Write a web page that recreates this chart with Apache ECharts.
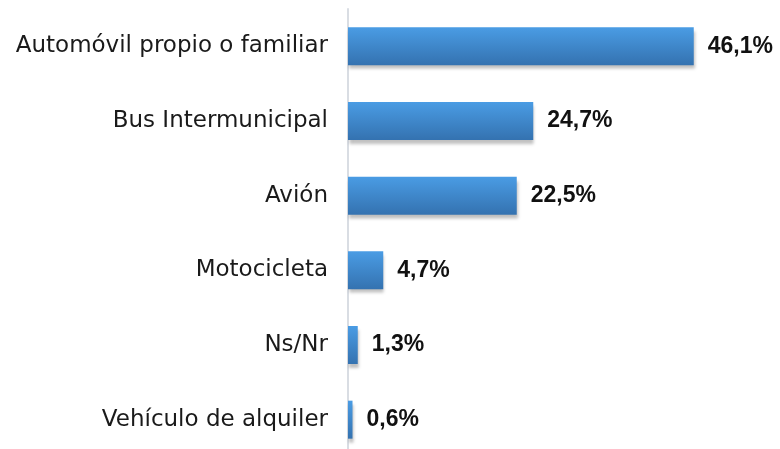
<!DOCTYPE html>
<html>
<head>
<meta charset="utf-8">
<script src="https://cdn.jsdelivr.net/npm/echarts@6/dist/echarts.min.js"></script>
<style>
  html, body { margin: 0; padding: 0; background: #fff; }
  #chart { width: 780px; height: 449px; }
</style>
</head>
<body>
<div id="chart"></div>
<script>
// categories from top to bottom
const categories = ['Automóvil propio o familiar', 'Bus Intermunicipal', 'Avión', 'Motocicleta', 'Ns/Nr', 'Vehículo de alquiler']
const values = [46.1, 24.7, 22.5, 4.7, 1.3, 0.6]

const chart = echarts.init(document.getElementById('chart'))

chart.setOption({
  animation: false,
  grid: { left: 348, right: 57, top: 9, height: 448, outerBoundsMode: 'none' },
  xAxis: {
    type: 'value',
    min: 0,
    max: 50,
    show: false
  },
  yAxis: {
    type: 'category',
    inverse: true,
    data: categories,
    axisLine: { show: true, lineStyle: { color: '#d9dde3', width: 2 } },
    axisTick: { show: false },
    axisLabel: {
      color: '#1a1a1a',
      fontFamily: 'DejaVu Sans',
      fontSize: 23,
      margin: 20
    }
  },
  series: [{
    type: 'bar',
    data: values,
    barWidth: 38,
    itemStyle: {
      color: new echarts.graphic.LinearGradient(0, 0, 0, 1, [
        { offset: 0, color: '#4a9ce4' },
        { offset: 1, color: '#3472b0' }
      ]),
      shadowColor: 'rgba(0,0,0,0.25)',
      shadowBlur: 3,
      shadowOffsetX: 1,
      shadowOffsetY: 4
    },
    label: {
      show: true,
      position: 'right',
      distance: 14,
      color: '#111',
      fontFamily: 'Liberation Sans',
      fontWeight: 'bold',
      fontSize: 23,
      formatter: p => p.value.toFixed(1).replace('.', ',') + '%'
    }
  }]
})
</script>
</body>
</html>
